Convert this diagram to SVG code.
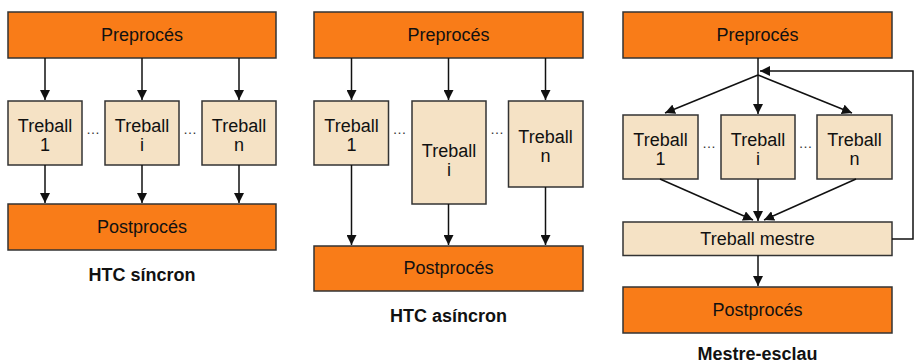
<svg xmlns="http://www.w3.org/2000/svg" width="915" height="363" viewBox="0 0 915 363">
<defs>
<marker id="ah" viewBox="0 0 10 10" refX="10" refY="5" markerWidth="10" markerHeight="10" markerUnits="userSpaceOnUse" orient="auto">
<path d="M0,0 L10,5 L0,10 z" fill="#111"/>
</marker>
<style>
.or{fill:#F97C18;stroke:#333;stroke-width:1.5}
.bg{fill:#F5E2C5;stroke:#333;stroke-width:1.5}
.t{font-family:"Liberation Sans",Arial,sans-serif;font-size:18px;fill:#111;text-anchor:middle}
.b{font-family:"Liberation Sans",Arial,sans-serif;font-size:18px;font-weight:bold;fill:#111;text-anchor:middle}
.c{stroke:#111;stroke-width:1.5;fill:none}
.a{marker-end:url(#ah)}
.d{font-family:"Liberation Sans",Arial,sans-serif;font-size:14px;fill:#333;text-anchor:middle;letter-spacing:1px}
</style>
</defs>
<rect width="915" height="363" fill="#fff"/>

<!-- Panel 1 -->
<g id="p1-pre"><rect class="or" x="8" y="12" width="268" height="46"/><text class="t" x="142" y="41">Preprocés</text></g>
<g id="p1-t1"><rect class="bg" x="8" y="101" width="74" height="64"/><text class="t" x="45" y="132">Treball</text><text class="t" x="45" y="151">1</text></g>
<g id="p1-ti"><rect class="bg" x="105" y="101" width="74" height="64"/><text class="t" x="142" y="132">Treball</text><text class="t" x="142" y="151">i</text></g>
<g id="p1-tn"><rect class="bg" x="202" y="101" width="74" height="64"/><text class="t" x="239" y="132">Treball</text><text class="t" x="239" y="151">n</text></g>
<g id="p1-post"><rect class="or" x="8" y="204" width="268" height="46"/><text class="t" x="142" y="233">Postprocés</text></g>
<g id="p1-dots"><text class="d" x="93.5" y="134">…</text><text class="d" x="190.5" y="134">…</text></g>
<text class="b" x="142" y="281">HTC síncron</text>

<!-- Panel 2 -->
<g id="p2-pre"><rect class="or" x="314" y="12" width="269" height="46"/><text class="t" x="448.5" y="41">Preprocés</text></g>
<g id="p2-t1"><rect class="bg" x="314" y="101" width="74.5" height="64"/><text class="t" x="351.5" y="132">Treball</text><text class="t" x="351.5" y="151">1</text></g>
<g id="p2-ti"><rect class="bg" x="412" y="101" width="74" height="103"/><text class="t" x="449" y="157">Treball</text><text class="t" x="449" y="176">i</text></g>
<g id="p2-tn"><rect class="bg" x="508.5" y="101" width="74.5" height="86"/><text class="t" x="545.5" y="143">Treball</text><text class="t" x="545.5" y="162">n</text></g>
<g id="p2-post"><rect class="or" x="314" y="246" width="269" height="45"/><text class="t" x="448.5" y="274">Postprocés</text></g>
<g id="p2-dots"><text class="d" x="400" y="134">…</text><text class="d" x="497.5" y="134">…</text></g>
<text class="b" x="448.5" y="322">HTC asíncron</text>

<!-- Panel 3 -->
<g id="p3-pre"><rect class="or" x="623" y="12" width="269" height="46"/><text class="t" x="757.5" y="41">Preprocés</text></g>
<g id="p3-t1"><rect class="bg" x="623" y="115" width="75" height="64"/><text class="t" x="660.5" y="146">Treball</text><text class="t" x="660.5" y="165">1</text></g>
<g id="p3-ti"><rect class="bg" x="721" y="115" width="74" height="64"/><text class="t" x="758" y="146">Treball</text><text class="t" x="758" y="165">i</text></g>
<g id="p3-tn"><rect class="bg" x="817" y="115" width="75" height="64"/><text class="t" x="854.5" y="146">Treball</text><text class="t" x="854.5" y="165">n</text></g>
<g id="p3-master"><rect class="bg" x="623" y="222" width="269" height="33.5"/><text class="t" x="757.5" y="245">Treball mestre</text></g>
<g id="p3-post"><rect class="or" x="623" y="287" width="269" height="46"/><text class="t" x="757.5" y="316">Postprocés</text></g>
<g id="p3-dots"><text class="d" x="709.5" y="148">…</text><text class="d" x="806" y="148">…</text></g>
<text class="b" x="757.5" y="360">Mestre-esclau</text>

<!-- Connectors -->
<g id="connectors">
<line class="c a" x1="45" y1="58" x2="45" y2="100"/>
<line class="c a" x1="142" y1="58" x2="142" y2="100"/>
<line class="c a" x1="239" y1="58" x2="239" y2="100"/>
<line class="c a" x1="45" y1="165" x2="45" y2="203"/>
<line class="c a" x1="142" y1="165" x2="142" y2="203"/>
<line class="c a" x1="239" y1="165" x2="239" y2="203"/>

<line class="c a" x1="351.5" y1="58" x2="351.5" y2="100"/>
<line class="c a" x1="448.5" y1="58" x2="448.5" y2="100"/>
<line class="c a" x1="545.5" y1="58" x2="545.5" y2="100"/>
<line class="c a" x1="351.5" y1="165" x2="351.5" y2="245"/>
<line class="c a" x1="448.5" y1="204" x2="448.5" y2="245"/>
<line class="c a" x1="545.5" y1="187" x2="545.5" y2="245"/>

<line class="c" x1="758" y1="58" x2="758" y2="75"/>
<line class="c a" x1="758" y1="75" x2="665" y2="113"/>
<line class="c a" x1="758" y1="75" x2="758" y2="114"/>
<line class="c a" x1="758" y1="75" x2="852" y2="113"/>
<polyline class="c a" points="892,239 913,239 913,71 760,71"/>
<line class="c a" x1="660" y1="179" x2="753" y2="220"/>
<line class="c a" x1="758" y1="179" x2="758" y2="221"/>
<line class="c a" x1="856" y1="179" x2="764" y2="220"/>
<line class="c a" x1="758" y1="255.5" x2="758" y2="286"/>
</g>
</svg>
